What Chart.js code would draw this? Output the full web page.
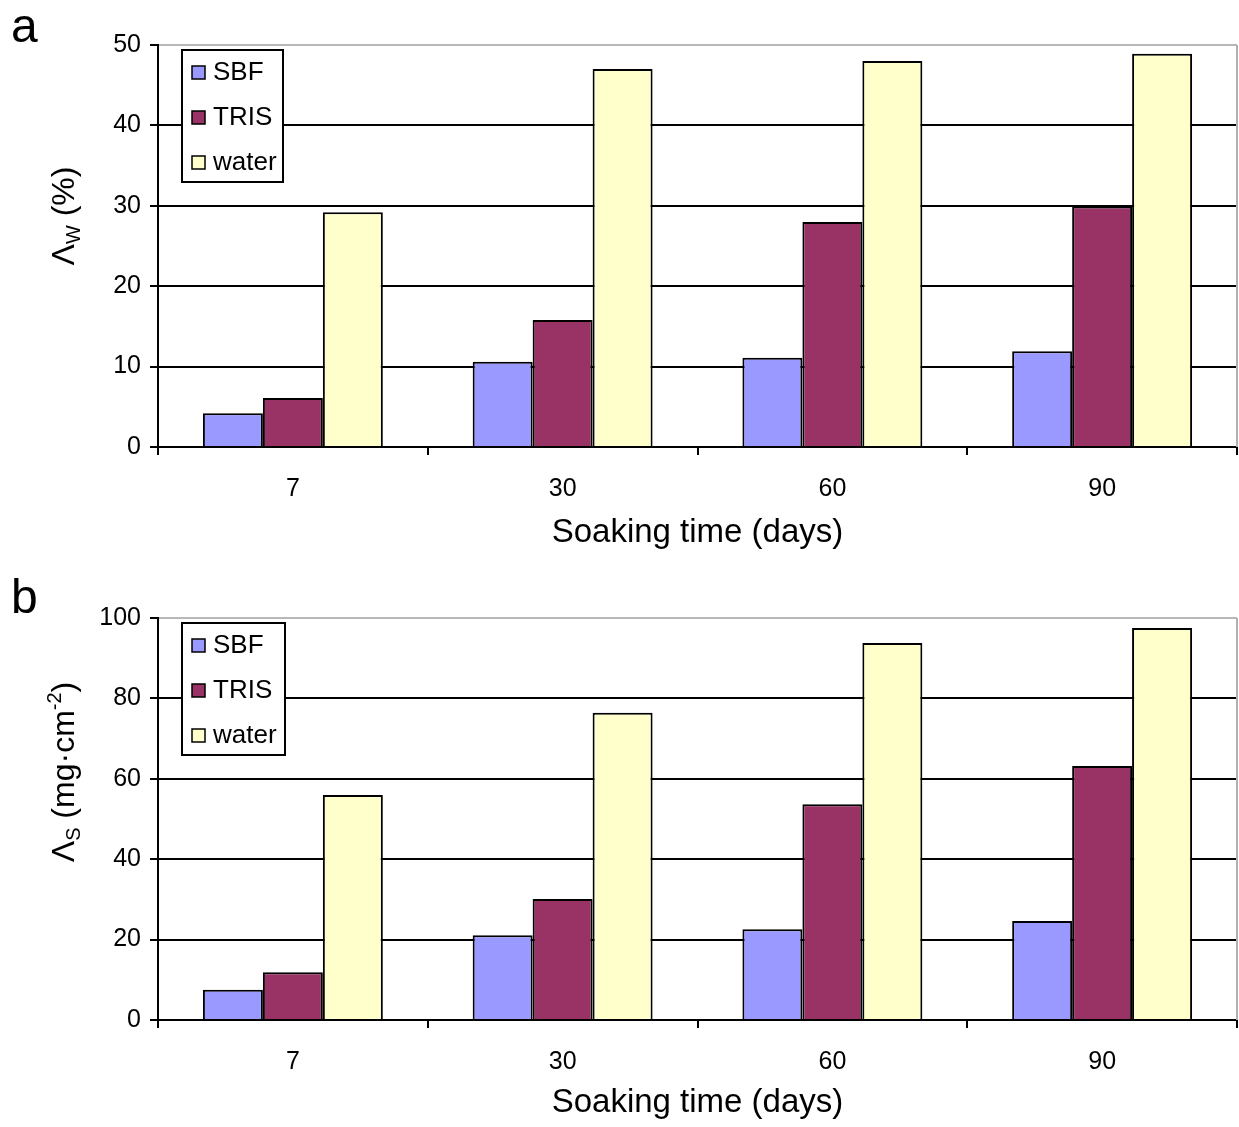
<!DOCTYPE html>
<html>
<head>
<meta charset="utf-8">
<script src="https://cdn.jsdelivr.net/npm/chart.js@4.4.1/dist/chart.umd.min.js"></script>
<style>
  body { margin: 0; background: #fff; }
  #wrap { position: relative; width: 1239px; height: 1127px; }
  canvas { position: absolute; left: 0; }
  #chartA { top: 0; }
  #chartB { top: 570px; }
</style>
</head>
<body>
<div id="wrap">
  <canvas id="chartA" width="1239" height="570"></canvas>
  <canvas id="chartB" width="1239" height="557"></canvas>
</div>
<script>
const categories = ["7", "30", "60", "90"];
const seriesNames = ["SBF", "TRIS", "water"];
const seriesColors = ["#9999ff", "#993366", "#ffffcc"];

// panel a: water absorption (%)
const sbfW = [4.2, 10.6, 11.1, 11.9];
const trisW = [6.1, 15.8, 28.0, 29.9];
const waterW = [29.2, 47.0, 48.0, 48.9];
const yTicksW = [0, 10, 20, 30, 40, 50];

// panel b: water absorption per surface (mg/cm2)
const sbfS = [7.5, 21.1, 22.6, 24.6];
const trisS = [11.9, 30.1, 53.7, 63.2];
const waterS = [56.0, 76.4, 93.8, 97.5];
const yTicksS = [0, 20, 40, 60, 80, 100];

const FONT = '"Liberation Sans", Arial, sans-serif';

// panel letter, y axis title with sub/superscripts, legend box, right border
const decor = {
  id: "decor",
  afterDraw(chart, args, opts) {
    const { ctx, chartArea: a } = chart;
    ctx.save();

    ctx.strokeStyle = "#b0b0b0";
    ctx.lineWidth = 2;
    ctx.beginPath();
    ctx.moveTo(a.right, a.top);
    ctx.lineTo(a.right, a.bottom);
    ctx.stroke();

    ctx.fillStyle = "#000";
    ctx.textBaseline = "alphabetic";
    ctx.textAlign = "left";
    ctx.font = "48px " + FONT;
    ctx.fillText(opts.letter, 11, opts.letterY);

    // rotated y title
    const big = "32px " + FONT, small = "20px " + FONT;
    let total = 0;
    opts.title.forEach(s => {
      ctx.font = s.sub || s.sup ? small : big;
      s.w = ctx.measureText(s.t).width;
      total += s.w;
    });
    ctx.save();
    ctx.translate(74, opts.titleY);
    ctx.rotate(-Math.PI / 2);
    let x = -total / 2;
    opts.title.forEach(s => {
      ctx.font = s.sub || s.sup ? small : big;
      const dy = s.sub ? 6 : s.sup ? -13 : 0;
      ctx.fillText(s.t, x, dy);
      x += s.w;
    });
    ctx.restore();

    // legend
    const lx = a.left + 24, ly = a.top + 5, lw = opts.legendW, lh = 132;
    ctx.fillStyle = "#fff";
    ctx.fillRect(lx, ly, lw, lh);
    ctx.strokeStyle = "#000";
    ctx.lineWidth = 2;
    ctx.strokeRect(lx, ly, lw, lh);
    ctx.lineWidth = 1.5;
    ctx.font = "26px " + FONT;
    ctx.textBaseline = "middle";
    chart.data.datasets.forEach((ds, i) => {
      const cy = ly + 22 + i * 45;
      ctx.fillStyle = ds.backgroundColor;
      ctx.fillRect(lx + 10, cy - 6, 13, 13);
      ctx.strokeRect(lx + 10, cy - 6, 13, 13);
      ctx.fillStyle = "#000";
      ctx.fillText(ds.label, lx + 31, cy + 1);
    });
    ctx.restore();
  }
};

function makeChart(id, values, yTicks, padTop, xHeight, titlePad, plugOpts) {
  const yMax = yTicks[yTicks.length - 1];
  return new Chart(document.getElementById(id), {
    type: "bar",
    data: {
      labels: categories,
      datasets: values.map((v, i) => ({
        label: seriesNames[i],
        data: v,
        backgroundColor: seriesColors[i],
        borderColor: "#000",
        borderWidth: 2,
        borderSkipped: "bottom",
        categoryPercentage: 0.667,
        barPercentage: 1.0
      }))
    },
    options: {
      responsive: false,
      animation: false,
      devicePixelRatio: 1,
      layout: { padding: { top: padTop, right: 2, left: 0, bottom: 0 } },
      plugins: {
        legend: { display: false },
        tooltip: { enabled: false },
        decor: plugOpts
      },
      scales: {
        x: {
          grid: {
            offset: true,
            drawOnChartArea: false,
            tickLength: 8,
            color: "#000",
            lineWidth: 2
          },
          border: { color: "#000", width: 2 },
          ticks: { color: "#000", font: { family: FONT, size: 25 }, padding: 19 },
          title: {
            display: true,
            text: "Soaking time (days)",
            color: "#000",
            font: { family: FONT, size: 33 },
            padding: { top: 0, bottom: titlePad }
          },
          afterFit(scale) { scale.height = xHeight; }
        },
        y: {
          min: 0,
          max: yMax,
          afterBuildTicks(scale) { scale.ticks = yTicks.map(v => ({ value: v })); },
          grid: {
            tickLength: 8,
            tickColor: "#000",
            lineWidth: 2,
            color: c => (c.tick && c.tick.value === yMax ? "#b8b8b8" : "#000")
          },
          border: { color: "#000", width: 2 },
          ticks: { color: "#000", font: { family: FONT, size: 25 }, padding: 9 },
          afterFit(scale) { scale.width = 158; }
        }
      }
    },
    plugins: [decor]
  });
}

makeChart("chartA", [sbfW, trisW, waterW], yTicksW, 45, 123, 17, {
  letter: "a",
  letterY: 42,
  titleY: 216,
  legendW: 101,
  title: [{ t: "\u039B" }, { t: "W", sub: true }, { t: " (%)" }]
});

makeChart("chartB", [sbfS, trisS, waterS], yTicksS, 48, 107, 4, {
  letter: "b",
  letterY: 43,
  titleY: 202,
  legendW: 103,
  title: [{ t: "\u039B" }, { t: "S", sub: true }, { t: " (mg\u00B7cm" }, { t: "-2", sup: true }, { t: ")" }]
});
</script>
</body>
</html>
